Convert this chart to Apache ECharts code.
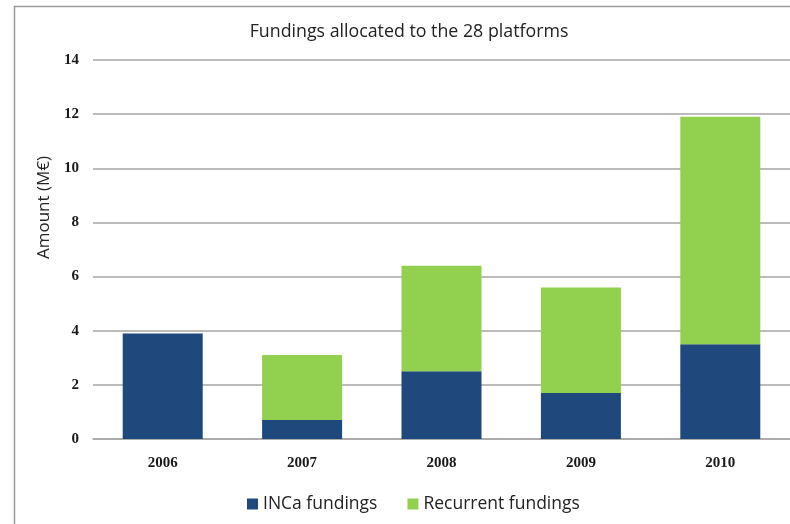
<!DOCTYPE html>
<html>
<head>
<meta charset="utf-8">
<script src="https://cdn.jsdelivr.net/npm/echarts@6/dist/echarts.min.js"></script>
<style>
  html, body { margin: 0; padding: 0; background: #fff; }
  #chart { width: 790px; height: 524px; }
</style>
</head>
<body>
<div id="chart"></div>
<script>
// Funding amounts per year, in millions of euros
const years = ['2006', '2007', '2008', '2009', '2010'];
const incaFundings = [3.9, 0.7, 2.5, 1.7, 3.5];
const recurrentFundings = [0, 2.4, 3.9, 3.9, 8.4];
const yTicks = { min: 0, max: 14, interval: 2 };

const chart = echarts.init(document.getElementById('chart'), null, { renderer: 'canvas' });

const tickFont = {
  fontFamily: 'Liberation Serif',
  fontWeight: 'bold',
  fontSize: 15,
  color: '#1a1a1a'
};

chart.setOption({
  animation: false,
  backgroundColor: '#fff',
  graphic: [{
    type: 'rect',
    shape: { x: 14.5, y: 6.5, width: 800, height: 600 },
    style: { fill: 'none', stroke: '#9a9a9a', lineWidth: 1.5 },
    silent: true
  }],
  title: {
    text: 'Fundings allocated to the 28 platforms',
    left: 404,
    top: 18,
    textAlign: 'center',
    textStyle: {
      fontFamily: 'Open Sans',
      fontWeight: 'normal',
      fontSize: 17.8,
      color: '#222'
    }
  },
  legend: {
    bottom: 6,
    left: 242,
    itemWidth: 11,
    itemHeight: 11,
    itemGap: 30,
    icon: 'rect',
    textStyle: {
      fontFamily: 'Open Sans',
      fontSize: 17.5,
      color: '#222'
    },
    data: ['INCa fundings', 'Recurrent fundings']
  },
  grid: {
    left: 93,
    right: 0,
    top: 60,
    bottom: 85,
    containLabel: false
  },
  xAxis: {
    type: 'category',
    data: years,
    axisLine: { show: true, lineStyle: { color: '#a6a6a6', width: 1.5 } },
    axisTick: { show: false },
    axisLabel: Object.assign({ margin: 17 }, tickFont)
  },
  yAxis: {
    type: 'value',
    min: yTicks.min,
    max: yTicks.max,
    interval: yTicks.interval,
    name: 'Amount (M€)',
    nameLocation: 'middle',
    nameGap: 30,
    nameRotate: 90,
    nameTextStyle: {
      fontFamily: 'Open Sans',
      fontSize: 17,
      color: '#222',
      padding: [0, 0, 0, 84]
    },
    axisLine: { show: false },
    axisTick: { show: false },
    axisLabel: Object.assign({ margin: 14 }, tickFont),
    splitLine: { lineStyle: { color: '#a6a6a6', width: 1.5 } }
  },
  series: [
    {
      name: 'INCa fundings',
      type: 'bar',
      stack: 'total',
      barWidth: 80,
      itemStyle: { color: '#1f497d' },
      data: incaFundings
    },
    {
      name: 'Recurrent fundings',
      type: 'bar',
      stack: 'total',
      barWidth: 80,
      itemStyle: { color: '#92d050' },
      data: recurrentFundings
    }
  ]
});
</script>
</body>
</html>
